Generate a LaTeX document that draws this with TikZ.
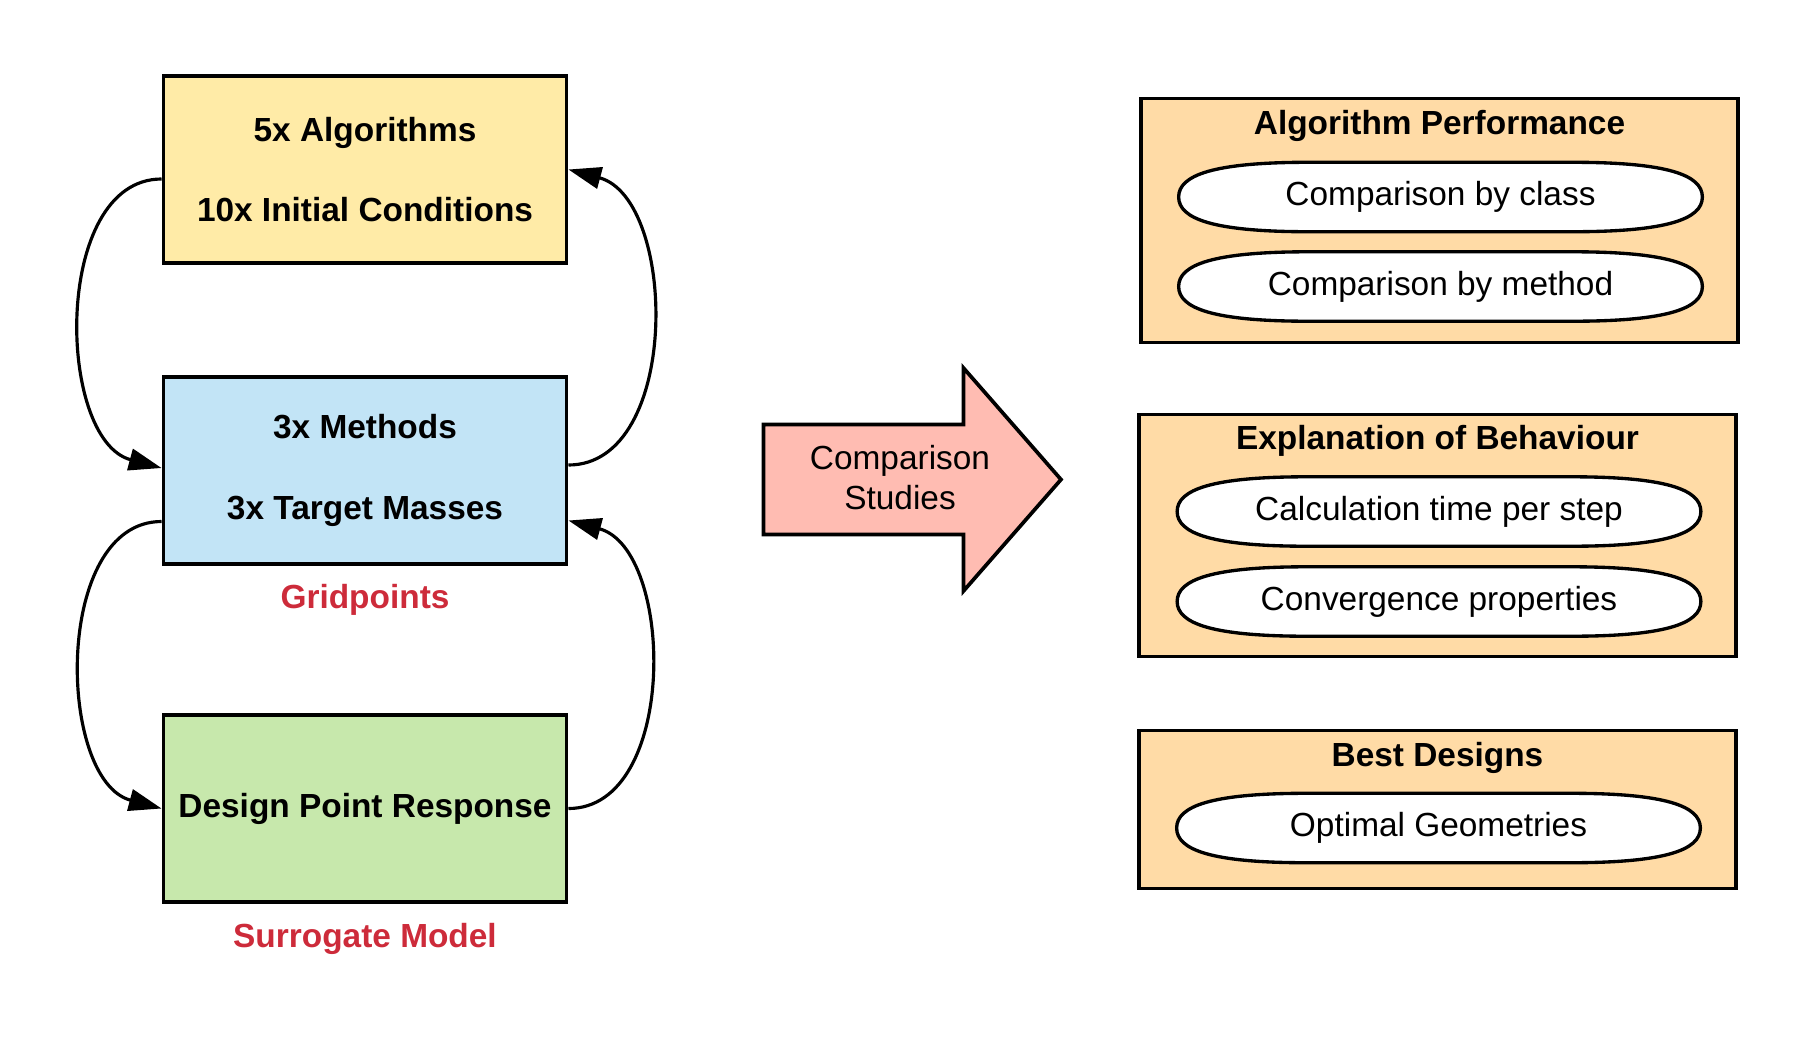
\documentclass[tikz,border=0pt]{standalone}
\usepackage{fontspec}
\setmainfont{Liberation Sans}
\usepackage{tikz}
\usetikzlibrary{arrows.meta,calc,positioning}
\definecolor{algoyellow}{RGB}{255,235,167}
\definecolor{gridblue}{RGB}{194,228,246}
\definecolor{surrgreen}{RGB}{199,232,172}
\definecolor{resultorange}{RGB}{255,219,166}
\definecolor{studypink}{RGB}{255,188,178}
\definecolor{tagred}{RGB}{205,43,58}
\pgfdeclarelayer{boxlayer}
\pgfdeclarelayer{pilllayer}
\pgfsetlayers{boxlayer,pilllayer,main}

\begin{document}
\begin{tikzpicture}[x=0.01cm,y=0.01cm,
every node/.style={font=\fontsize{9.5}{11.4}\selectfont},
stage/.style={draw,line width=1.05pt,minimum width=4.03cm,minimum height=1.87cm,inner sep=0pt,align=center,font=\fontsize{9.5}{11.4}\selectfont\bfseries},
result/.style={draw,line width=1.05pt,fill=resultorange,minimum width=5.97cm,inner sep=0pt},
pill/.style={minimum width=5.22cm,minimum height=0.68cm,inner sep=0pt},
pillline/.style={draw,fill=white,line width=0.95pt},
title/.style={anchor=base,inner sep=0pt,font=\fontsize{9.5}{11.4}\selectfont\bfseries},
tag/.style={inner sep=0pt,text=tagred,font=\fontsize{9.5}{11.4}\selectfont\bfseries},
loop/.style={line width=0.9pt,-{Triangle[length=9.3pt,width=6.2pt]}}]
\useasboundingbox (0,0) rectangle (1815,-1054);

\node[stage,fill=algoyellow] (algo) at (365,-169.5) {5x Algorithms\\[11.4pt]10x Initial Conditions};
\node[stage,fill=gridblue] (grid) at (365,-470.5) {3x Methods\\[11.4pt]3x Target Masses};
\node[stage,fill=surrgreen] (surr) at (365,-808.5) {Design Point Response};
\node[tag,below=0.18cm of grid] (gridtag) {Gridpoints};
\node[tag,below=0.19cm of surr] (surrtag) {Surrogate Model};

\path[loop]
($(algo.west)+(0,-9.5)$) edge[out=180,in=165,looseness=0.97] ($(grid.west)+(0,2.5)$)
($(grid.west)+(0,-51)$) edge[out=180,in=165,looseness=0.97] (surr.west)
($(grid.east)+(0,5.5)$) edge[out=0,in=-15,looseness=0.98] (algo.east)
(surr.east) edge[out=0,in=-15,looseness=0.98] ($(grid.east)+(0,-50)$);

\draw[line width=1.05pt,fill=studypink] (763.5,-424.5) -- (963.5,-424.5) -- (963.5,-368) -- (1061,-479.5) -- (963.5,-591) -- (963.5,-534.5) -- (763.5,-534.5) -- cycle;
\node[align=center] (study) at (900,-478) {Comparison\\Studies};

\begin{pgfonlayer}{boxlayer}
\node[result,minimum height=2.44cm] (perf) at (1439.5,-220.5) {};
\node[result,minimum height=2.42cm] (behav) at (1437.5,-535.5) {};
\node[result,minimum height=1.58cm] (best) at (1437.5,-809.5) {};
\end{pgfonlayer}
\node[title] (perftitle) at ($(perf.north)+(0,-37.5)$) {Algorithm Performance};
\node[title] (behavtitle) at ($(behav.north)+(0,-37)$) {Explanation of Behaviour};
\node[title] (besttitle) at ($(best.north)+(0,-37.5)$) {Best Designs};

\node[pill] (bycls) at (1440.5,-197) {Comparison by class};
\node[pill] (bymth) at (1440.5,-286.5) {Comparison by method};
\node[pill] (calct) at (1439,-511.5) {Calculation time per step};
\node[pill] (convp) at (1439,-601.5) {Convergence properties};
\node[pill] (optgeo) at (1438.5,-828) {Optimal Geometries};

\begin{pgfonlayer}{pilllayer}
\foreach \p in {bycls,bymth,calct,convp,optgeo}
\draw[pillline] (\p.west) .. controls ($(\p.west)+(0,22)$) and ($(\p.north west)+(35,0)$) .. ($(\p.north west)+(130,0)$)
-- ($(\p.north east)+(-130,0)$) .. controls ($(\p.north east)+(-35,0)$) and ($(\p.east)+(0,22)$) .. (\p.east)
.. controls ($(\p.east)+(0,-22)$) and ($(\p.south east)+(-35,0)$) .. ($(\p.south east)+(-130,0)$)
-- ($(\p.south west)+(130,0)$) .. controls ($(\p.south west)+(35,0)$) and ($(\p.west)+(0,-22)$) .. (\p.west) -- cycle;
\end{pgfonlayer}
\end{tikzpicture}
\end{document}
